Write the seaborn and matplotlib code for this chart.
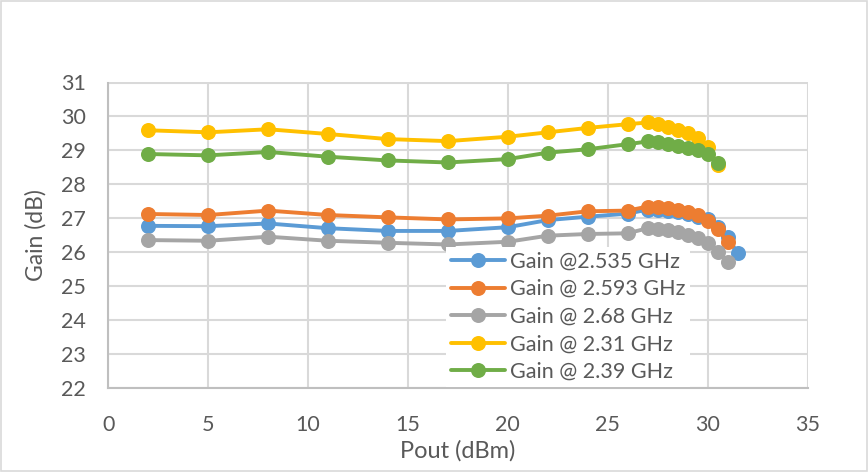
import matplotlib
matplotlib.use("Agg")
import matplotlib.pyplot as plt
import seaborn as sns
import pandas as pd
from matplotlib.patches import Rectangle

# Output power sweep points (dBm) for each frequency
pout_2535 = [2, 5, 8, 11, 14, 17, 20, 22, 24, 26, 27, 27.5, 28, 28.5, 29, 29.5, 30, 30.5, 31, 31.5]
pout_2593 = [2, 5, 8, 11, 14, 17, 20, 22, 24, 26, 27, 27.5, 28, 28.5, 29, 29.5, 30, 30.5, 31]
pout_268 = [2, 5, 8, 11, 14, 17, 20, 22, 24, 26, 27, 27.5, 28, 28.5, 29, 29.5, 30, 30.5, 31]
pout_231 = [2, 5, 8, 11, 14, 17, 20, 22, 24, 26, 27, 27.5, 28, 28.5, 29, 29.5, 30, 30.5]
pout_239 = [2, 5, 8, 11, 14, 17, 20, 22, 24, 26, 27, 27.5, 28, 28.5, 29, 29.5, 30, 30.5]

# Measured gain (dB)
gain_2535 = [26.77, 26.76, 26.84, 26.70, 26.62, 26.62, 26.73, 26.94, 27.04, 27.13,
             27.25, 27.24, 27.22, 27.18, 27.12, 27.02, 26.97, 26.74, 26.45, 25.96]
gain_2593 = [27.12, 27.09, 27.22, 27.09, 27.02, 26.96, 26.99, 27.07, 27.20, 27.22,
             27.34, 27.32, 27.29, 27.25, 27.18, 27.08, 26.92, 26.68, 26.30]
gain_268 = [26.35, 26.33, 26.45, 26.33, 26.27, 26.22, 26.30, 26.48, 26.53, 26.55,
            26.70, 26.67, 26.64, 26.59, 26.51, 26.40, 26.25, 26.00, 25.70]
gain_231 = [29.59, 29.53, 29.62, 29.48, 29.33, 29.27, 29.40, 29.53, 29.66, 29.77,
            29.82, 29.77, 29.69, 29.61, 29.50, 29.35, 29.10, 28.58]
gain_239 = [28.89, 28.85, 28.95, 28.81, 28.70, 28.64, 28.74, 28.93, 29.03, 29.18,
            29.26, 29.23, 29.20, 29.13, 29.07, 29.00, 28.88, 28.63]

labels = ["Gain @2.535 GHz", "Gain @ 2.593 GHz", "Gain @ 2.68 GHz",
          "Gain @ 2.31 GHz", "Gain @ 2.39 GHz"]
colors = ["#5B9BD5", "#ED7D31", "#A5A5A5", "#FFC000", "#70AD47"]
x_series = [pout_2535, pout_2593, pout_268, pout_231, pout_239]
y_series = [gain_2535, gain_2593, gain_268, gain_231, gain_239]

sns.set_theme(style="white")
plt.rcParams["font.family"] = ["Lato", "DejaVu Sans"]
text_color = "#595959"
grid_color = "#D9D9D9"

fig = plt.figure(figsize=(8.68, 4.72), dpi=100)
ax = fig.add_axes([108.3 / 868, 1 - 387.5 / 472, (807.5 - 108.3) / 868, (387.5 - 82.5) / 472])

for xs, ys, lab, col in zip(x_series, y_series, labels, colors):
    df = pd.DataFrame({"Pout": xs, "Gain": ys})
    sns.lineplot(data=df, x="Pout", y="Gain", ax=ax, color=col, label=lab,
                 marker="o", markersize=10.8, markeredgewidth=0,
                 linewidth=2.8, sort=False, clip_on=False)

ax.set_xlim(0, 35)
ax.set_ylim(22, 31)
ax.set_xticks(range(0, 36, 5))
ax.set_yticks(range(22, 32, 1))
ax.grid(True, color=grid_color, linewidth=1.5)
ax.set_axisbelow(True)

for side in ["top", "right"]:
    ax.spines[side].set_visible(False)
for side in ["left", "bottom"]:
    ax.spines[side].set_color("#BFBFBF")
    ax.spines[side].set_linewidth(1.5)

ax.tick_params(axis="both", length=0, labelsize=15.5, labelcolor=text_color)
ax.tick_params(axis="y", pad=16)
ax.tick_params(axis="x", pad=20)
ax.set_xlabel("Pout (dBm)", fontsize=17, color=text_color, va="center")
ax.set_ylabel("Gain (dB)", fontsize=16.5, color=text_color, va="center")
ax.xaxis.set_label_coords(0.5, (387.5 - 451) / 305)
ax.yaxis.set_label_coords((36 - 108.3) / 699.2, (387.5 - 235) / 305)

leg = ax.legend(loc="lower left", bbox_to_anchor=(446 / 868, 1 - 386.5 / 472),
                bbox_transform=fig.transFigure, borderaxespad=0,
                frameon=True, fancybox=False, framealpha=1, facecolor="white",
                edgecolor="none", fontsize=15.5, handlelength=2.5,
                handletextpad=0.23, labelspacing=0.35, borderpad=0.22)
for t in leg.get_texts():
    t.set_color(text_color)
leg.set_zorder(5)

# Light chart-area border
fig.patches.append(Rectangle((1 / 868, 1 / 472), 866 / 868, 470 / 472,
                             transform=fig.transFigure, fill=False,
                             edgecolor="#D9D9D9", linewidth=1.2))

fig.savefig("out.png", dpi=100, facecolor="white")
